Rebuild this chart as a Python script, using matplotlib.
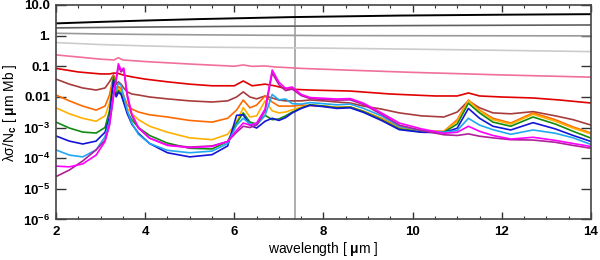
import numpy as np
import matplotlib
matplotlib.use("Agg")
import matplotlib.pyplot as plt
from matplotlib.ticker import FixedLocator, FixedFormatter, MultipleLocator, NullLocator

plt.rcParams['font.family'] = ['Liberation Sans', 'DejaVu Sans']
plt.rcParams['font.weight'] = 'bold'
plt.rcParams['mathtext.fontset'] = 'custom'
plt.rcParams['mathtext.rm'] = 'Liberation Sans:bold'
plt.rcParams['mathtext.it'] = 'Liberation Sans:italic:bold'
plt.rcParams['mathtext.bf'] = 'Liberation Sans:bold'
plt.rcParams['mathtext.default'] = 'rm'

# ---------------- data ----------------
# smooth large-grain curves
w_black = [2.0, 3.0, 4.0, 5.2, 7.25, 9.7, 12.0, 14.0]
v_black = [2.5, 2.8, 3.1, 3.45, 4.0, 4.5, 4.8, 5.0]

w_dgray = [2.0, 4.0, 6.0, 8.0, 10.0, 12.0, 14.0]
v_dgray = [1.78, 1.9, 2.0, 2.06, 2.12, 2.17, 2.22]

w_gray = [2.0, 3.0, 4.0, 6.0, 8.0, 10.0, 12.0, 14.0]
v_gray = [1.19, 1.13, 1.09, 1.04, 1.0, 0.99, 0.985, 0.98]

w_lgray = [2.0, 3.0, 4.0, 5.2, 8.0, 10.0, 12.0, 14.0]
v_lgray = [0.59, 0.51, 0.46, 0.42, 0.39, 0.36, 0.33, 0.30]

w_pink = [2.0, 2.5, 3.0, 3.3, 3.4, 3.5, 4.0, 5.0, 6.0, 6.2, 6.4, 6.69, 6.9,
          7.5, 8.5, 10.0, 11.25, 12.0, 14.0]
v_pink = [0.234, 0.20, 0.17, 0.16, 0.19, 0.16, 0.142, 0.118, 0.10, 0.11, 0.099,
          0.102, 0.095, 0.085, 0.075, 0.063, 0.056, 0.052, 0.044]

w_red = [2.0, 2.5, 3.0, 3.2, 3.3, 3.4, 3.5, 3.7, 4.0, 4.5, 5.0, 5.5, 6.0, 6.2,
         6.4, 6.69, 6.9, 7.2, 7.7, 8.6, 9.5, 10.5, 11.0, 11.25, 11.5, 12.0, 12.7,
         13.3, 14.0]
v_red = [0.085, 0.065, 0.056, 0.056, 0.060, 0.058, 0.052, 0.045, 0.038, 0.031,
         0.026, 0.023, 0.023, 0.033, 0.023, 0.026, 0.023, 0.018, 0.0167, 0.0155,
         0.0124, 0.0107, 0.0107, 0.0134, 0.0107, 0.0099, 0.0092, 0.0079, 0.0063]

# PAH curves on a common wavelength grid
w_pah = [2.0, 2.3, 2.6, 2.9, 3.1, 3.2, 3.29, 3.35, 3.4, 3.46, 3.52, 3.6, 3.7,
         3.85, 4.1, 4.5, 5.0, 5.5, 5.85, 6.05, 6.2, 6.35, 6.5, 6.69, 6.85, 7.0,
         7.15, 7.3, 7.5, 7.7, 8.0, 8.3, 8.6, 8.9, 9.3, 9.7, 10.2, 10.7, 11.0,
         11.25, 11.5, 11.8, 12.2, 12.7, 13.2, 13.6, 14.0]

v_brown = [0.038, 0.026, 0.0195, 0.0167, 0.0195, 0.031, 0.052, 0.026, 0.031,
           0.026, 0.0195, 0.0145, 0.0124, 0.0115, 0.0099, 0.0086, 0.0074,
           0.0068, 0.0074, 0.0099, 0.0145, 0.0099, 0.0086, 0.0107, 0.0092,
           0.0079, 0.0074, 0.0074, 0.0074, 0.0079, 0.0074, 0.0068, 0.0063,
           0.0050, 0.0040, 0.0030, 0.0024, 0.0022, 0.0032, 0.0074, 0.0044,
           0.0030, 0.0028, 0.0033, 0.0024, 0.0018, 0.0012]

v_dorange = [0.0115, 0.0074, 0.0050, 0.0037, 0.0050, 0.0115, 0.050, 0.014,
             0.022, 0.018, 0.011, 0.0054, 0.0040, 0.0032, 0.0026, 0.0022,
             0.0017, 0.0015, 0.0020, 0.0037, 0.0079, 0.0044, 0.0054, 0.0107,
             0.0068, 0.0050, 0.0050, 0.0050, 0.0054, 0.0052, 0.0050, 0.0046,
             0.0047, 0.0034, 0.0020, 0.0010, 0.00078, 0.00075, 0.0018, 0.0079,
             0.0037, 0.0020, 0.0014, 0.0030, 0.0018, 0.00104, 0.00066]

v_yorange = [0.0044, 0.0028, 0.0020, 0.0016, 0.0024, 0.0063, 0.045, 0.012,
             0.018, 0.015, 0.009, 0.0042, 0.0028, 0.0018, 0.0011, 0.0007,
             0.00046, 0.00040, 0.0006, 0.0015, 0.0045, 0.0022, 0.0024, 0.0075,
             0.0035, 0.0030, 0.0032, 0.0038, 0.0046, 0.0054, 0.0050, 0.0045,
             0.0046, 0.0033, 0.0019, 0.00095, 0.00075, 0.00073, 0.0016, 0.0075,
             0.0035, 0.0018, 0.0013, 0.0027, 0.0016, 0.00095, 0.00062]

v_green = [0.0015, 0.00096, 0.00071, 0.00066, 0.0010, 0.0035, 0.045, 0.011,
           0.016, 0.013, 0.007, 0.0032, 0.0018, 0.0010, 0.00055, 0.00031,
           0.00021, 0.00020, 0.00035, 0.0014, 0.0030, 0.0015, 0.0013, 0.0025,
           0.0018, 0.0019, 0.0024, 0.0032, 0.0043, 0.0055, 0.0050, 0.0044,
           0.0046, 0.0033, 0.0018, 0.00090, 0.00072, 0.00070, 0.0013, 0.0062,
           0.0030, 0.0015, 0.0011, 0.0022, 0.0013, 0.00075, 0.00045]

v_blue = [0.00053, 0.00036, 0.00029, 0.00036, 0.0007, 0.0022, 0.035, 0.010,
          0.014, 0.012, 0.0065, 0.0028, 0.0013, 0.00065, 0.00030, 0.00015,
          0.00011, 0.00013, 0.00025, 0.0025, 0.0026, 0.0012, 0.00096, 0.0016,
          0.0020, 0.0017, 0.0021, 0.0030, 0.0042, 0.0053, 0.0048, 0.0042,
          0.0044, 0.0031, 0.0017, 0.00085, 0.00070, 0.00068, 0.00095, 0.0042,
          0.0020, 0.0011, 0.00083, 0.00144, 0.0009, 0.00055, 0.00035]

v_cyan = [0.000186, 0.000126, 0.00011, 0.000186, 0.0005, 0.0016, 0.012, 0.018,
          0.028, 0.024, 0.010, 0.0035, 0.0014, 0.0006, 0.00030, 0.00018,
          0.00015, 0.00017, 0.0003, 0.0012, 0.0020, 0.0013, 0.0012, 0.0025,
          0.012, 0.0080, 0.0085, 0.0060, 0.0058, 0.0065, 0.0060, 0.0055,
          0.0058, 0.0042, 0.0024, 0.0011, 0.00080, 0.00070, 0.00080, 0.0020,
          0.0012, 0.00085, 0.00060, 0.00083, 0.00065, 0.00046, 0.00028]

v_magenta = [0.000055, 0.000052, 0.000065, 0.000126, 0.00035, 0.0012, 0.012,
             0.040, 0.12, 0.075, 0.087, 0.012, 0.0028, 0.0010, 0.00045,
             0.00026, 0.00022, 0.00024, 0.00035, 0.0008, 0.0014, 0.0012,
             0.0014, 0.0040, 0.075, 0.030, 0.019, 0.021, 0.012, 0.0095,
             0.0090, 0.0085, 0.0088, 0.0062, 0.0030, 0.0014, 0.0009, 0.00065,
             0.0007, 0.0011, 0.00075, 0.00055, 0.00042, 0.00048, 0.00038,
             0.00030, 0.00024]

v_purple = [0.000025, 0.000041, 0.000081, 0.000186, 0.00038, 0.0012, 0.010,
            0.035, 0.10, 0.065, 0.080, 0.010, 0.0025, 0.00095, 0.00045,
            0.00027, 0.00023, 0.00025, 0.00035, 0.0007, 0.0011, 0.0010,
            0.0012, 0.0035, 0.060, 0.025, 0.016, 0.018, 0.011, 0.0088,
            0.0082, 0.0078, 0.0080, 0.0056, 0.0027, 0.0012, 0.0008, 0.00058,
            0.00055, 0.00062, 0.00052, 0.00046, 0.00040, 0.00039, 0.00033,
            0.00026, 0.00021]

vline_x = 7.35

ytick_vals = [1e1, 1e0, 1e-1, 1e-2, 1e-3, 1e-4, 1e-5, 1e-6]
ytick_labels = ['10.0', '1.', '0.1', '0.01', r'10$^{-3}$', r'10$^{-4}$',
                r'10$^{-5}$', r'10$^{-6}$']
xtick_vals = [2, 4, 6, 8, 10, 12, 14]

# ---------------- plot ----------------
fig = plt.figure(figsize=(6.0, 2.6), dpi=100)
ax = fig.add_axes([0.0933, 0.156, 0.8917, 0.825])

lw = 1.2
ax.axvline(vline_x, color='#a8a8a8', lw=1.3, zorder=1)
ax.plot(w_black, v_black, color='black', lw=1.4)
ax.plot(w_dgray, v_dgray, color='#606060', lw=lw)
ax.plot(w_gray, v_gray, color='#9a9a9a', lw=lw)
ax.plot(w_lgray, v_lgray, color='#cccccc', lw=lw)
ax.plot(w_pink, v_pink, color='#f0709a', lw=lw)
ax.plot(w_red, v_red, color='#e00000', lw=lw)
ax.plot(w_pah, v_brown, color='#a83c3c', lw=lw)
ax.plot(w_pah, v_dorange, color='#ff6a00', lw=lw)
ax.plot(w_pah, v_yorange, color='#ffb000', lw=lw)
ax.plot(w_pah, v_green, color='#108a10', lw=lw)
ax.plot(w_pah, v_blue, color='#1414d8', lw=lw)
ax.plot(w_pah, v_cyan, color='#20a8f0', lw=lw)
ax.plot(w_pah, v_purple, color='#b0209a', lw=lw)
ax.plot(w_pah, v_magenta, color='#ff00ff', lw=lw)

ax.set_yscale('log')
ax.set_xlim(2, 14)
ax.set_ylim(1e-6, 10)

ax.yaxis.set_major_locator(FixedLocator(ytick_vals))
ax.yaxis.set_major_formatter(FixedFormatter(ytick_labels))
ax.yaxis.set_minor_locator(NullLocator())
ax.xaxis.set_major_locator(FixedLocator(xtick_vals))
ax.xaxis.set_minor_locator(MultipleLocator(0.5))

ax.tick_params(axis='both', which='both', direction='in', top=True, right=True,
               color='#333333')
ax.tick_params(axis='x', which='major', length=5, width=1.0, labelsize=9.5, pad=5)
ax.tick_params(axis='x', which='minor', length=2.5, width=0.8)
ax.tick_params(axis='y', which='major', length=7, width=1.0, labelsize=9.5, pad=4)

for s in ax.spines.values():
    s.set_color('#444444')
    s.set_linewidth(1.2)

ax.set_xlabel('wavelength [ $\\mu$m ]', fontsize=10, labelpad=1)
ax.set_ylabel('λσ/N$_{\\rm c}$ [ $\\mu$m Mb ]', fontsize=10, labelpad=3)

fig.savefig('out.png', dpi=100)
